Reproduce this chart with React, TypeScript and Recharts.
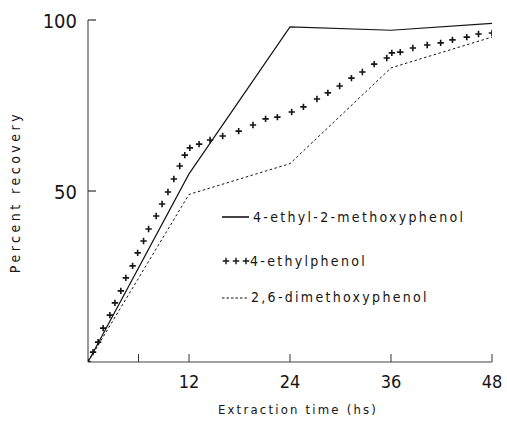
import React from 'react';
import { LineChart, Line, XAxis, YAxis } from 'recharts';

const seriesNames = ['4-ethyl-2-methoxyphenol', '4-ethylphenol', '2,6-dimethoxyphenol'];

const solidTimes = [0, 12, 24, 36, 48];
const solidValues = [0, 55, 98, 97, 99];

const dashTimes = [0, 12, 24, 36, 48];
const dashValues = [0, 49, 58, 86, 95];

const plusTimes = [0, 0.6, 1.2, 1.8, 2.6, 3.2, 3.9, 4.5, 5.3, 5.9, 6.6, 7.2, 8.1, 8.8, 9.5, 10.2, 10.9, 11.5, 12.1, 13.2, 14.5, 16.0, 17.9, 19.6, 21.1, 22.5, 24.2, 25.6, 27.2, 28.5, 29.9, 31.3, 32.6, 34.0, 35.5, 36.1, 37.1, 38.6, 40.3, 41.9, 43.3, 45.0, 46.4, 48.0];
const plusValues = [0, 2.9, 5.8, 9.9, 13.7, 17.3, 20.8, 24.6, 28.1, 31.9, 35.4, 38.9, 42.7, 46.2, 49.7, 53.5, 57.3, 60.5, 62.6, 63.7, 64.9, 66.1, 67.5, 69.3, 71.1, 71.6, 73.1, 74.6, 76.9, 78.7, 80.7, 83.0, 84.8, 87.1, 88.9, 90.4, 90.6, 91.8, 92.7, 93.3, 94.2, 95.0, 95.9, 96.2];

const xTicks = [6, 12, 24, 36, 48];
const xTickLabels = ['', '12', '24', '36', '48'];
const yTicks = [50, 100];
const yTickLabels = ['50', '100'];

const xTitle = 'Extraction time (hs)';
const yTitle = 'Percent recovery';

const solidData = solidTimes.map((t, i) => ({ t, v: solidValues[i] }));
const dashData = dashTimes.map((t, i) => ({ t, v: dashValues[i] }));
const plusData = plusTimes.map((t, i) => ({ t, v: plusValues[i] }));

const FONT = '"DejaVu Sans Condensed", "DejaVu Sans", sans-serif';
const INK = '#151515';

const XTick = (props: any) => {
  const { x, y, payload } = props;
  const label = xTickLabels[xTicks.indexOf(payload.value)] ?? '';
  return (
    <g>
      <line x1={x} x2={x} y1={y} y2={y - 8} stroke="#333" strokeWidth={1} />
      <text x={x} y={y + 26} textAnchor="middle" fontFamily={FONT} fontSize={18} fill={INK}>
        {label}
      </text>
    </g>
  );
};

const YTick = (props: any) => {
  const { x, y, payload } = props;
  const label = yTickLabels[yTicks.indexOf(payload.value)] ?? '';
  return (
    <g>
      <line x1={x} x2={x + 8} y1={y} y2={y} stroke="#333" strokeWidth={1.2} />
      <text x={x - 11} y={y + 8} textAnchor="end" fontFamily={FONT} fontSize={20} fill={INK}>
        {label}
      </text>
    </g>
  );
};

const PlusDot = (props: any) => {
  const { cx, cy, index } = props;
  if (cx == null || cy == null) return <g key={index} />;
  return (
    <path
      key={index}
      d={`M${cx - 3.2},${cy}h6.4M${cx},${cy - 3.2}v6.4`}
      stroke={INK}
      strokeWidth={1.6}
      fill="none"
    />
  );
};

export default function App() {
  return (
    <div style={{ position: 'absolute', left: 0, top: 0, width: 507, height: 423, background: '#fff' }}>
      <LineChart width={507} height={423} margin={{ top: 20, right: 15, left: 0, bottom: 0 }}>
        <XAxis
          dataKey="t"
          type="number"
          domain={[0, 48]}
          ticks={xTicks}
          tick={<XTick />}
          tickLine={false}
          tickSize={0}
          tickMargin={0}
          height={61}
          axisLine={{ stroke: '#444', strokeWidth: 1.2 }}
          allowDataOverflow
        />
        <YAxis
          type="number"
          domain={[0, 100]}
          ticks={yTicks}
          tick={<YTick />}
          tickLine={false}
          tickSize={0}
          tickMargin={0}
          width={88}
          axisLine={{ stroke: '#555', strokeWidth: 1.2 }}
          allowDataOverflow
        />
        <Line
          data={solidData}
          dataKey="v"
          name={seriesNames[0]}
          stroke={INK}
          strokeWidth={1.2}
          dot={false}
          isAnimationActive={false}
        />
        <Line
          data={plusData}
          dataKey="v"
          name={seriesNames[1]}
          stroke="none"
          dot={<PlusDot />}
          activeDot={false}
          isAnimationActive={false}
        />
        <Line
          data={dashData}
          dataKey="v"
          name={seriesNames[2]}
          stroke={INK}
          strokeWidth={1}
          strokeDasharray="2.5 2.5"
          dot={false}
          isAnimationActive={false}
        />
        <g fontFamily={FONT} fontSize={14} fill={INK} letterSpacing={2.3}>
          <line x1={222} x2={249} y1={217} y2={217} stroke={INK} strokeWidth={1.6} />
          <text x={253} y={222}>{seriesNames[0]}</text>
          {[226, 236, 246].map((px) => (
            <path key={px} d={`M${px - 3.2},261h6.4M${px},257.8v6.4`} stroke={INK} strokeWidth={1.4} />
          ))}
          <text x={250} y={266}>{seriesNames[1]}</text>
          <line x1={222} x2={248} y1={298} y2={298} stroke={INK} strokeWidth={1} strokeDasharray="2.5 2" />
          <text x={251} y={302}>{seriesNames[2]}</text>
        </g>
        <text x={20} y={192} transform="rotate(-90 20 192)" textAnchor="middle" fontFamily={FONT} fontSize={14} letterSpacing={3.5} fill={INK}>
          {yTitle}
        </text>
        <text x={298} y={414} textAnchor="middle" fontFamily={FONT} fontSize={13} letterSpacing={2.2} fill={INK}>
          {xTitle}
        </text>
      </LineChart>
    </div>
  );
}
